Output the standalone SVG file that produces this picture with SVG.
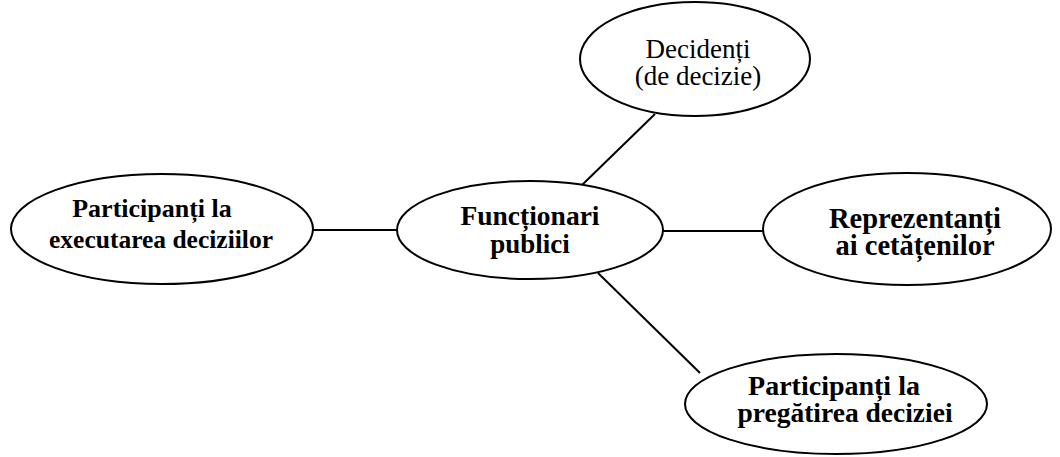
<svg xmlns="http://www.w3.org/2000/svg" width="1060" height="457" viewBox="0 0 1060 457">
<style>
.node ellipse{fill:#fff;stroke:#000;stroke-width:2}
.conn line{stroke:#000;stroke-width:2}
text{font-family:"Liberation Serif","Times New Roman",serif;fill:#000;text-anchor:middle}
.b{font-weight:bold}
</style>
<rect width="1060" height="457" fill="#fff"/>
<g id="connectors" class="conn">
<line x1="313" y1="230" x2="398" y2="230"/>
<line x1="582" y1="185" x2="655" y2="114"/>
<line x1="662" y1="231" x2="763" y2="231"/>
<line x1="598" y1="273" x2="700" y2="373"/>
</g>
<g id="node-decidenti" class="node">
<ellipse cx="695" cy="59" rx="115" ry="57"/>
<text x="698" y="58" font-size="27">Decidenți</text>
<text x="698" y="85" font-size="27">(de decizie)</text>
</g>
<g id="node-executare" class="node">
<ellipse cx="162" cy="229" rx="151" ry="55"/>
<text class="b" x="152" y="217" font-size="26">Participanți la</text>
<text class="b" x="161" y="248" font-size="25.5">executarea deciziilor</text>
</g>
<g id="node-functionari" class="node">
<ellipse cx="530" cy="230" rx="133" ry="49"/>
<text class="b" x="530" y="225" font-size="27.5">Funcționari</text>
<text class="b" x="530" y="253" font-size="27">publici</text>
</g>
<g id="node-reprezentanti" class="node">
<ellipse cx="907" cy="229" rx="144" ry="56"/>
<text class="b" x="915" y="228" font-size="28.5">Reprezentanți</text>
<text class="b" x="915" y="255" font-size="28.5">ai cetățenilor</text>
</g>
<g id="node-pregatire" class="node">
<ellipse cx="836" cy="404" rx="151" ry="50"/>
<text class="b" x="834" y="395" font-size="28">Participanți la</text>
<text class="b" x="845" y="422" font-size="27.5">pregătirea deciziei</text>
</g>
</svg>
